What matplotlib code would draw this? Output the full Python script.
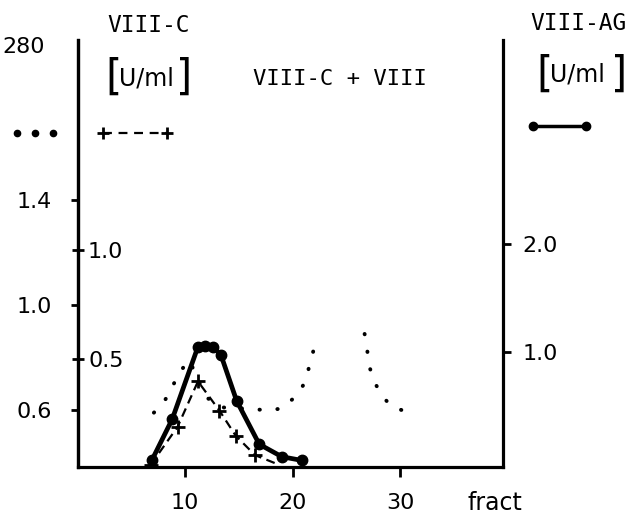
import numpy as np
import matplotlib.pyplot as plt
from matplotlib.lines import Line2D

# OD 280 (dotted line, outer left scale); NaN marks the gap between the two peaks
od_x = [7.1, 8.1, 8.9, 9.4, 10.4, 11.9, 13.5, 15.8, 17.4, 19.0, 20.5, 21.2, 21.6, 21.9, 22.2,
        np.nan, 26.7, 26.9, 27.1, 27.7, 28.4, 29.3, 31.0]
od_y = [0.59, 0.635, 0.695, 0.74, 0.79, 0.65, 0.61, 0.605, 0.60, 0.605, 0.66, 0.71, 0.775, 0.82, 0.875,
        np.nan, 0.89, 0.845, 0.77, 0.70, 0.65, 0.61, 0.59]

# VIII-C activity (dashed, +), inner left scale, U/ml
c_x = [6.8, 9.3, 11.2, 13.2, 14.7, 16.5, 18.5]
c_y = [0.01, 0.185, 0.395, 0.26, 0.145, 0.055, 0.015]

# VIII-AG (solid, filled circles), right scale, U/ml
ag_x = [6.9, 8.8, 11.2, 11.9, 12.6, 13.35, 14.8, 16.9, 19.0, 20.9]
ag_y = [0.0, 0.38, 1.05, 1.06, 1.05, 0.97, 0.55, 0.15, 0.035, 0.0]

W, H = 637, 516
fig = plt.figure(figsize=(W / 100, H / 100), dpi=100)
ax = fig.add_axes([78.3 / W, 49 / H, 425 / W, 427 / H])
ax_c = ax.twinx()
ax_ag = ax.twinx()

sans = 'DejaVu Sans'
mono = 'DejaVu Sans Mono'
lw_sp = 2.3

# dotted OD280 curve
ax.plot(od_x, od_y, color='black', lw=2.8, linestyle=(0, (0.1, 4.5)),
        dash_capstyle='round')
ax.set_xlim(0.07, 39.6)
ax.set_ylim(0.383, 2.01)
ax.set_xticks([10, 20, 30])
ax.set_xticklabels(['10', '20', '30'], fontsize=16, family=sans)
ax.set_yticks([0.6, 1.0, 1.4])
ax.set_yticklabels(['0.6', '1.0', '1.4'], fontsize=16, family=sans)
ax.tick_params(axis='x', direction='out', length=7, width=2, pad=12)
ax.tick_params(axis='y', direction='out', length=5, width=2, pad=14)
for s in ['top', 'right']:
    ax.spines[s].set_visible(False)
for s in ['left', 'bottom']:
    ax.spines[s].set_linewidth(lw_sp)

# VIII-C
ax_c.plot(c_x, c_y, color='black', lw=1.6, dashes=(4, 2.5),
          marker='+', ms=10, mew=2, markevery=slice(0, 6))
ax_c.set_ylim(0, 1.97)
ax_c.spines['right'].set_position(('axes', 0))
ax_c.set_yticks([0.5, 1.0])
ax_c.set_yticklabels(['0.5', '1.0'], fontsize=16, family=sans)
ax_c.tick_params(axis='y', direction='inout', length=8, width=2, pad=3)
for s in ['top', 'left', 'bottom']:
    ax_c.spines[s].set_visible(False)
ax_c.spines['right'].set_linewidth(lw_sp)

# VIII-AG
ax_ag.plot(ag_x, ag_y, color='black', lw=3.4, marker='o', ms=7.5)
ax_ag.set_ylim(-0.06, 3.88)
ax_ag.set_yticks([1.0, 2.0])
ax_ag.set_yticklabels(['1.0', '2.0'], fontsize=16, family=sans)
ax_ag.tick_params(axis='y', direction='out', length=6, width=2, pad=8)
for s in ['top', 'left', 'bottom']:
    ax_ag.spines[s].set_visible(False)
ax_ag.spines['right'].set_linewidth(lw_sp)


def ftxt(x, y, s, **kw):
    fig.text(x / W, 1 - y / H, s, va='center', **kw)


ftxt(2, 47, '280', fontsize=16, family=sans)
ftxt(107, 25, 'VIII-C', fontsize=16.5, family=mono)
ftxt(105, 78, '[', fontsize=30, family=sans)
ftxt(119, 78, 'U/ml', fontsize=17, family=sans)
ftxt(192, 78, ']', fontsize=30, family=sans, ha='right')
ftxt(253, 79, 'VIII-C + VIII', fontsize=16, family=mono)
ftxt(530, 23, 'VIII-AG', fontsize=16.5, family=mono)
ftxt(536, 75, '[', fontsize=30, family=sans)
ftxt(550, 75, 'U/ml', fontsize=17, family=sans)
ftxt(627, 75, ']', fontsize=30, family=sans, ha='right')
ftxt(468, 503, 'fract', fontsize=17, family=sans)

# legend keys
def fline(xs, y, **kw):
    fig.add_artist(Line2D([x / W for x in xs], [1 - y / H] * len(xs),
                          transform=fig.transFigure, color='black', **kw))


fline([17, 35, 53], 133, linestyle='none', marker='o', ms=4.5)
fline([103, 167], 133, lw=1.6, dashes=(4, 3), marker='+', ms=9, mew=2)
fline([533, 586], 126, lw=2.5, marker='o', ms=6)

fig.savefig('out.png', dpi=100)
